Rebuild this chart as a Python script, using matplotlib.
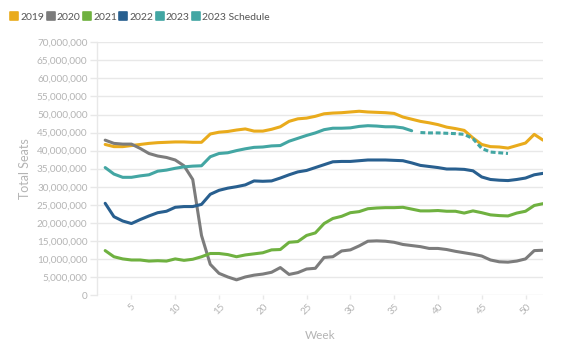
""" weekly seat capacity, 2019-2023 """

import matplotlib
matplotlib.use("Agg")
import matplotlib.pyplot
import matplotlib.ticker
import matplotlib.lines
import matplotlib.markers

OUTPUT = "out.png"

WEEKS = list(range(2, 53))

# total seats per week, in millions
SEATS_2019 = [41.7, 41.1, 41.1, 41.4, 41.7, 42.0, 42.2, 42.3, 42.4, 42.4, 42.3, 42.3,
              44.6, 45.1, 45.3, 45.7, 46.0, 45.4, 45.4, 45.9, 46.6, 48.1, 48.8, 49.0,
              49.5, 50.2, 50.4, 50.5, 50.7, 50.9, 50.7, 50.6, 50.5, 50.3, 49.3, 48.7,
              48.1, 47.7, 47.2, 46.5, 46.1, 45.6, 43.5, 41.7, 41.1, 41.0, 40.7, 41.4,
              42.1, 44.5, 42.9]
SEATS_2020 = [42.9, 42.0, 41.8, 41.8, 40.6, 39.2, 38.5, 38.1, 37.4, 35.8, 32.0, 16.5,
              8.5, 6.0, 5.0, 4.2, 5.0, 5.5, 5.8, 6.3, 7.6, 5.7, 6.2, 7.2,
              7.4, 10.4, 10.6, 12.2, 12.5, 13.6, 14.9, 15.0, 14.9, 14.6, 14.0, 13.7,
              13.4, 12.9, 12.9, 12.6, 12.1, 11.7, 11.3, 10.8, 9.7, 9.2, 9.1, 9.4,
              10.0, 12.3, 12.4]
SEATS_2021 = [12.3, 10.6, 10.0, 9.7, 9.7, 9.4, 9.5, 9.4, 10.0, 9.6, 9.9, 10.6,
              11.5, 11.5, 11.2, 10.6, 11.1, 11.4, 11.7, 12.5, 12.6, 14.6, 14.8, 16.5,
              17.2, 19.8, 21.2, 21.8, 22.8, 23.1, 23.9, 24.1, 24.2, 24.2, 24.3, 23.8,
              23.3, 23.3, 23.4, 23.2, 23.2, 22.7, 23.3, 22.8, 22.2, 22.0, 21.9, 22.7,
              23.2, 24.8, 25.3]
SEATS_2022 = [25.4, 21.7, 20.5, 19.8, 20.9, 21.9, 22.8, 23.2, 24.3, 24.5, 24.5, 25.1,
              27.9, 29.0, 29.6, 30.0, 30.5, 31.6, 31.5, 31.6, 32.4, 33.3, 34.1, 34.5,
              35.3, 36.1, 36.9, 37.0, 37.0, 37.2, 37.4, 37.4, 37.4, 37.3, 37.2, 36.6,
              35.9, 35.6, 35.3, 34.9, 34.9, 34.8, 34.4, 32.7, 32.0, 31.8, 31.7, 32.0,
              32.4, 33.3, 33.7]

WEEKS_2023 = list(range(2, 38))
SEATS_2023 = [35.3, 33.5, 32.6, 32.6, 33.0, 33.3, 34.3, 34.6, 35.1, 35.5, 35.7, 35.8,
              38.3, 39.2, 39.4, 40.0, 40.5, 40.9, 41.0, 41.3, 41.4, 42.6, 43.4, 44.2,
              44.9, 45.8, 46.2, 46.2, 46.3, 46.7, 46.9, 46.8, 46.6, 46.6, 46.3, 45.5]

WEEKS_SCHEDULE = list(range(38, 49))
SEATS_SCHEDULE = [45.0, 44.9, 44.9, 44.8, 44.7, 44.5, 43.3, 40.6, 39.6, 39.4, 39.2]

LABELS = ["2019", "2020", "2021", "2022", "2023", "2023 Schedule"]
COLORS = ["#E9AB1C", "#7C7C7C", "#6FB140", "#285F8F", "#43A6A3", "#43A6A3"]

GRID = "#e8e8e8"
TEXT = "#b4b4b4"


def plot_seats():
    matplotlib.pyplot.rcParams["font.family"] = ["Lato", "DejaVu Sans"]

    fig = matplotlib.pyplot.figure(figsize=(5.67, 3.49), dpi=100)
    ax = fig.add_axes([0.1716, 0.1547, 0.7861, 0.7241])

    series = [(WEEKS, SEATS_2019), (WEEKS, SEATS_2020), (WEEKS, SEATS_2021),
              (WEEKS, SEATS_2022), (WEEKS_2023, SEATS_2023)]
    for (x, y), color in zip(series, COLORS):
        ax.plot(x, [v * 1e6 for v in y], "-", color=color, linewidth=2.2,
                solid_joinstyle="round", solid_capstyle="round", zorder=3)
    ax.plot(WEEKS_SCHEDULE, [v * 1e6 for v in SEATS_SCHEDULE], color=COLORS[5],
            linewidth=2.2, linestyle=(0, (1.6, 0.9)), dash_capstyle="butt", zorder=3)

    ax.set_ylim([0, 70e6])
    ax.set_xlim([1.1, 52])
    ax.yaxis.set_major_locator(matplotlib.ticker.MultipleLocator(5e6))
    ax.yaxis.set_major_formatter(matplotlib.ticker.FuncFormatter(lambda v, p: "{:,.0f}".format(v)))
    ax.set_xticks(range(5, 51, 5))

    ax.grid(axis="y", color=GRID, linewidth=1.0, zorder=0)
    ax.set_axisbelow(True)
    for side in ["top", "right", "bottom"]:
        ax.spines[side].set_visible(False)
    ax.spines["left"].set_color(GRID)
    ax.spines["left"].set_linewidth(1.0)

    ax.tick_params(axis="y", length=5, width=1.0, color=GRID, labelcolor=TEXT,
                   labelsize=7.2, pad=2)
    ax.tick_params(axis="x", length=3, width=1.0, color=GRID, labelcolor=TEXT,
                   labelsize=7, pad=2)
    for label in ax.get_xticklabels():
        label.set_rotation(45)

    ax.set_ylabel("Total Seats", color=TEXT, fontsize=9, labelpad=4)
    ax.set_xlabel("Week", color=TEXT, fontsize=8.5, labelpad=10)

    marker = matplotlib.markers.MarkerStyle("s", joinstyle="round")
    handles = [matplotlib.lines.Line2D([], [], linestyle="none", marker=marker,
                                       markersize=5.2, markerfacecolor=c,
                                       markeredgecolor=c, markeredgewidth=1.2)
               for c in COLORS]
    leg = fig.legend(handles, LABELS, loc="upper left", bbox_to_anchor=(0.002, 0.99),
                     ncol=6, frameon=False, fontsize=7.5, handlelength=0.8,
                     handletextpad=0.2, columnspacing=0.2, borderaxespad=0.45)
    for text in leg.get_texts():
        text.set_color("#555555")

    matplotlib.pyplot.savefig(OUTPUT, dpi=100)
    matplotlib.pyplot.close()


if __name__ == "__main__":
    plot_seats()
